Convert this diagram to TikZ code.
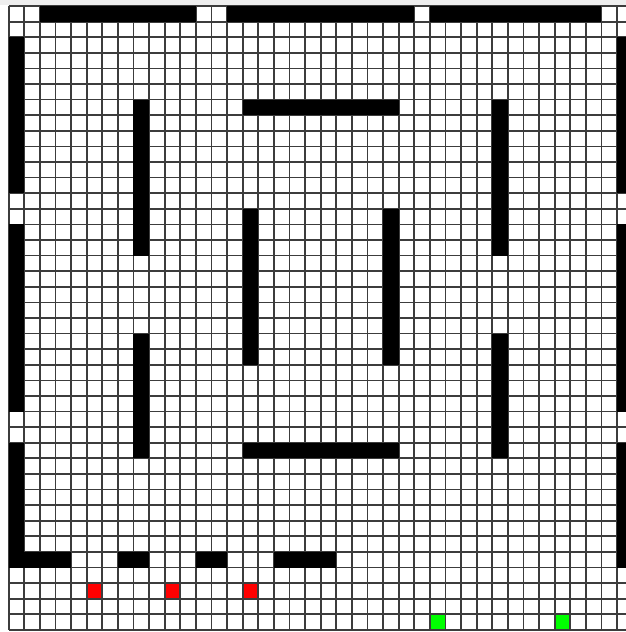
\documentclass[tikz,border=0pt]{standalone}

\begin{document}
\begin{tikzpicture}[x=0.4cm,y=-0.4cm]
\definecolor{gridline}{RGB}{60,60,60}
\definecolor{framegray}{RGB}{238,238,238}
\definecolor{agent}{RGB}{255,0,0}
\definecolor{goal}{RGB}{0,255,0}

\newcommand{\cellfill}[3]{
  \fill[#1] (#2,#3) rectangle ++(1,1);
}

\useasboundingbox (-0.558,-0.385) rectangle (39.57,40.13);
\clip (-0.558,-0.385) rectangle (39.57,40.13);
\fill[white] (-0.558,-0.385) rectangle (39.57,40.13);
\fill[framegray] (-0.558,-0.385) rectangle (39.57,-0.06);

% Start and goal cells.
\foreach \cx in {5,10,15}{
  \cellfill{agent}{\cx}{37}
}
\foreach \cx in {27,35}{
  \cellfill{goal}{\cx}{39}
}

% The grid.
\foreach \i in {0,...,40}{
  \draw[gridline,line width=1.3pt] (\i,0)--(\i,40);
  \draw[gridline,line width=1.3pt] (0,\i)--(40,\i);
}

% Outer walls, with their doorways.
\foreach \xa/\ya/\xb/\yb in {2/0/12/1, 14/0/26/1, 27/0/38/1,
    0/2/1/12, 0/14/1/26, 0/28/1/36,
    39/2/40/12, 39/14/40/26, 39/28/40/36,
    0/35/4/36, 7/35/9/36, 12/35/14/36, 17/35/21/36}{
  \fill[black] (\xa,\ya) rectangle (\xb,\yb);
}

% Inner walls.
\foreach \xa/\ya/\xb/\yb in {8/6/9/16, 8/21/9/29, 31/6/32/16, 31/21/32/29,
    15/6/25/7, 15/28/25/29, 15/13/16/23, 24/13/25/23}{
  \fill[black] (\xa,\ya) rectangle (\xb,\yb);
}
\end{tikzpicture}
\end{document}
